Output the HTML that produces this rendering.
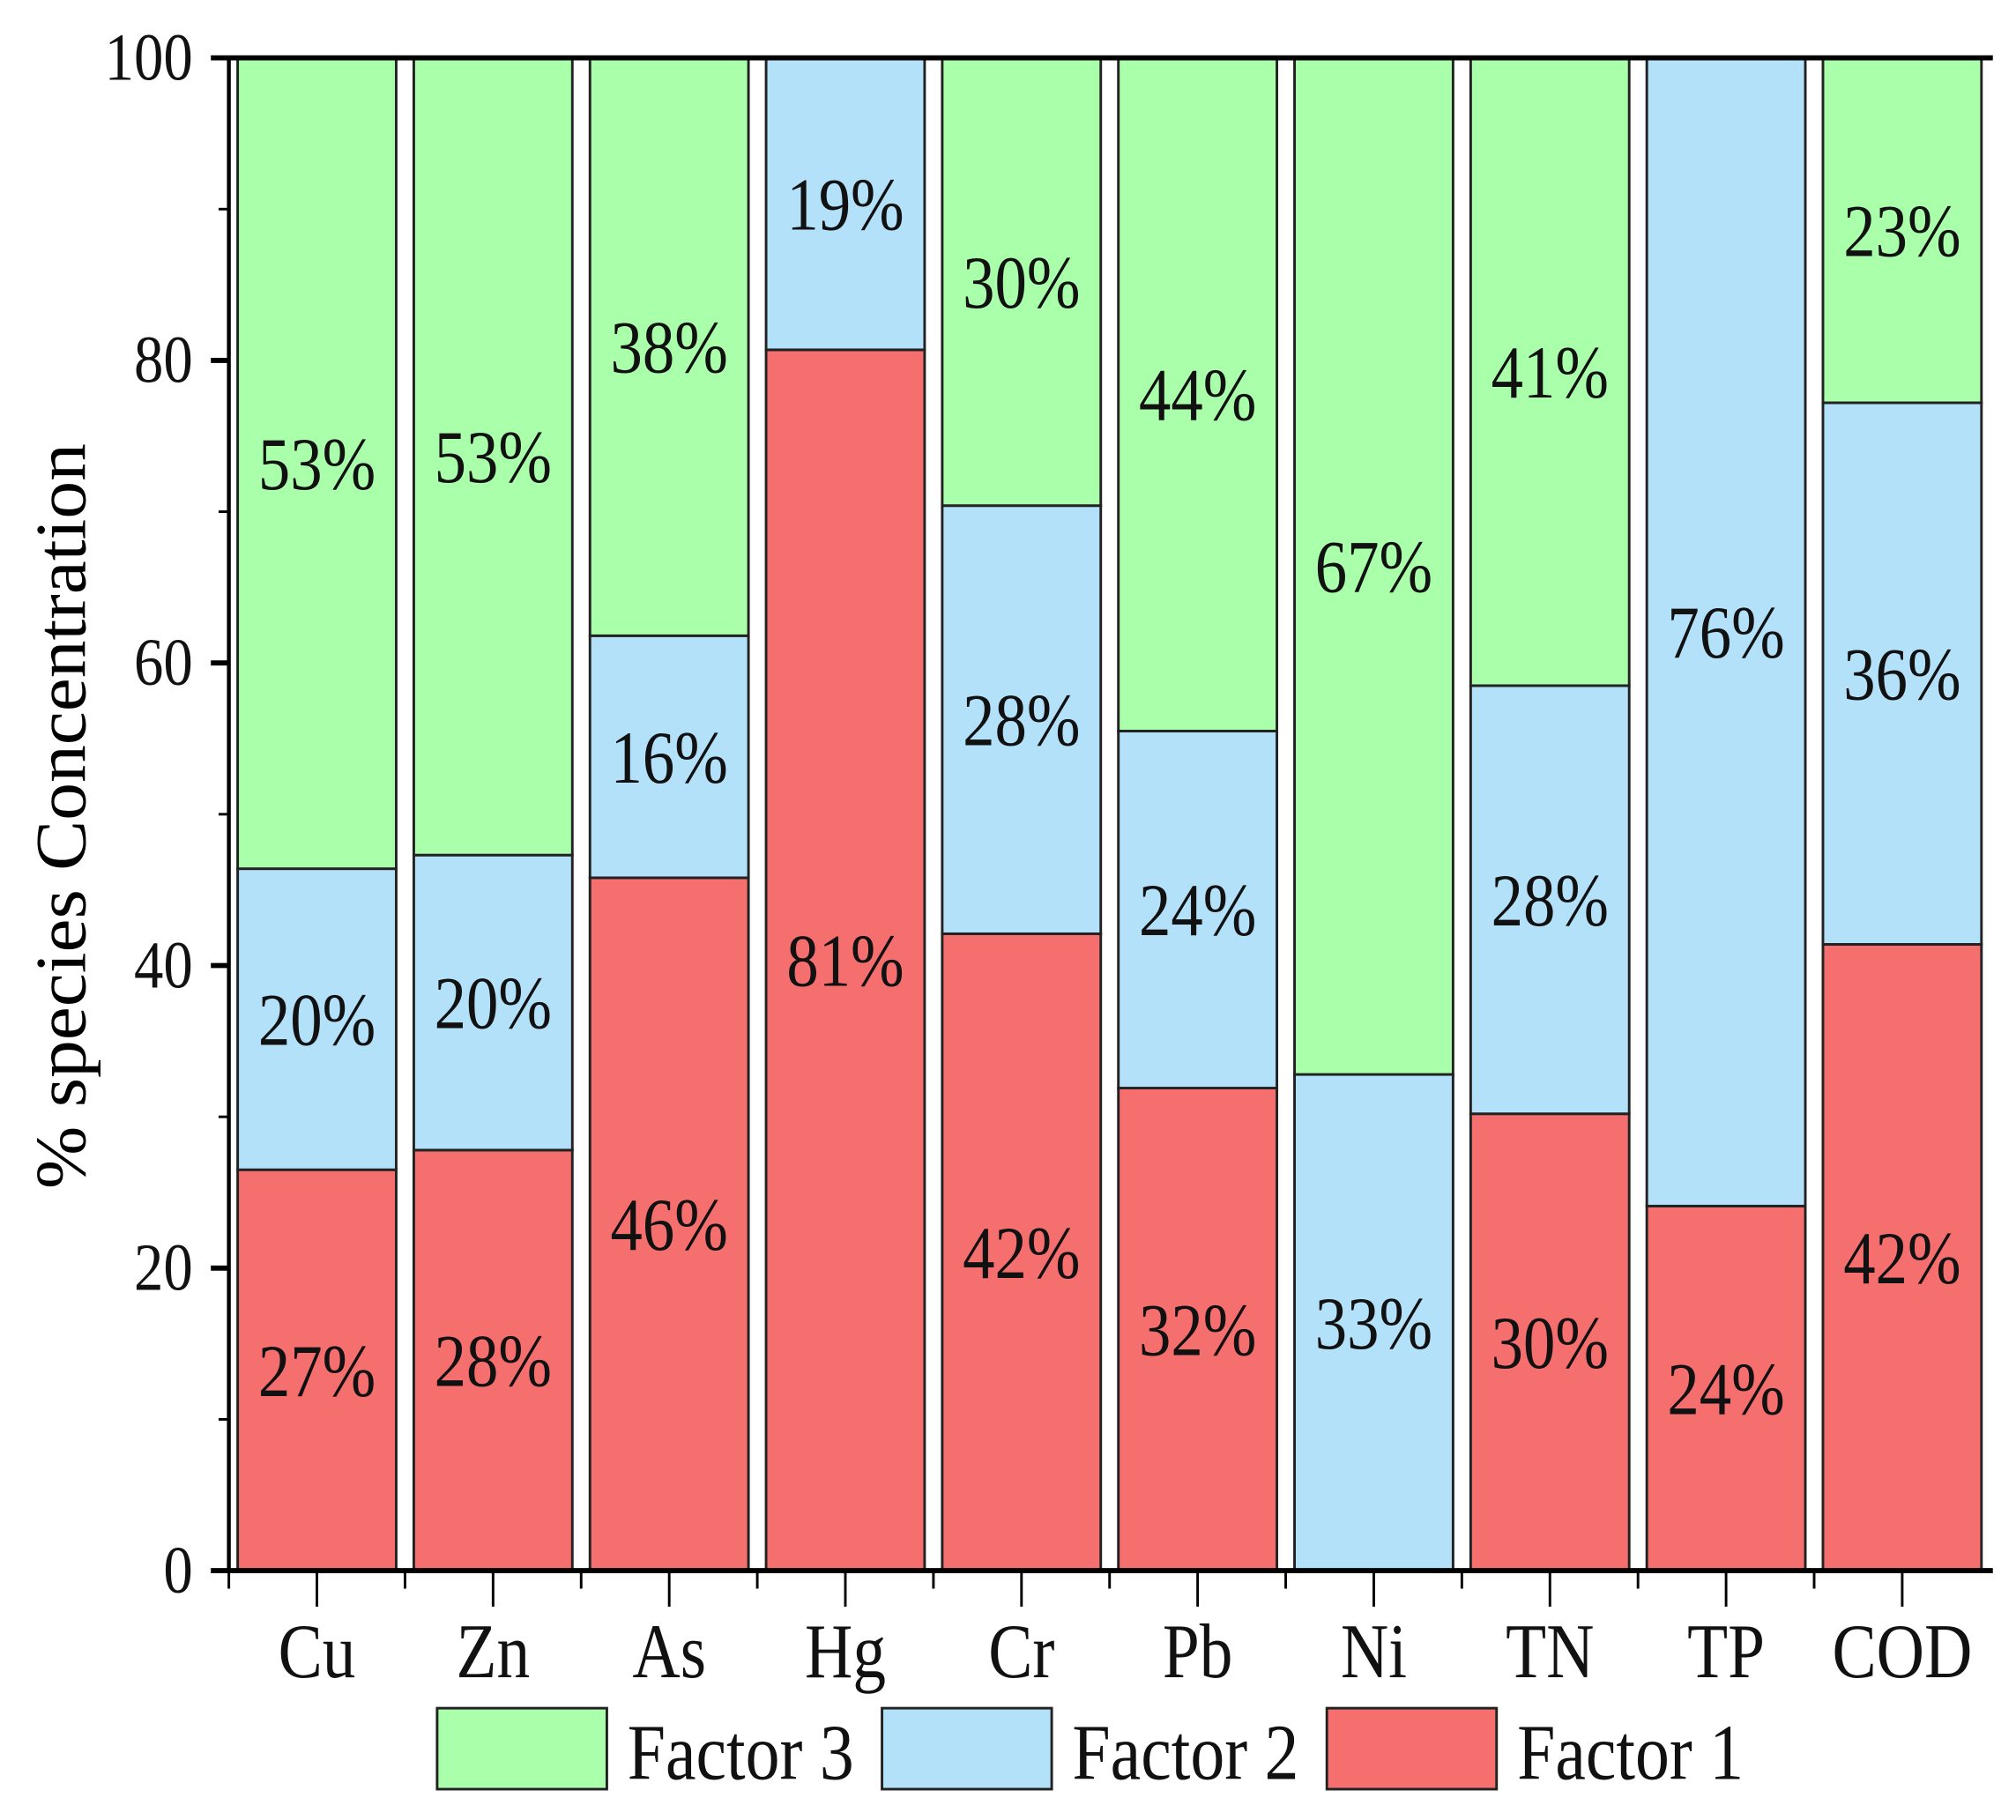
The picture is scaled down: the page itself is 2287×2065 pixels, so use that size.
<!DOCTYPE html>
<html><head><meta charset="utf-8"><style>
html,body{margin:0;padding:0;background:#fff;}
svg{display:block;font-family:"Liberation Serif",serif;}
</style></head><body>
<svg id="chart" width="2287" height="2065" viewBox="0 0 1568 1416" preserveAspectRatio="none" xmlns="http://www.w3.org/2000/svg">
<g id="marks"></g>
<g id="axes"></g>
</svg>
<script>
const categories = ["Cu","Zn","As","Hg","Cr","Pb","Ni","TN","TP","COD"];
const factor1 = [26.5,27.8,45.8,80.7,42.1,31.9,0,30.2,24.1,41.4];
const factor2 = [19.9,19.5,16.0,19.3,28.3,23.6,32.8,28.3,75.9,35.8];
const factor3 = [53.6,52.7,38.2,0,29.6,44.5,67.2,41.5,0,22.8];
const labels1 = ["27%","28%","46%","81%","42%","32%","","30%","24%","42%"];
const labels2 = ["20%","20%","16%","19%","28%","24%","33%","28%","76%","36%"];
const labels3 = ["53%","53%","38%","","30%","44%","67%","41%","","23%"];
const yTicks = [0,20,40,60,80,100];
const seriesNames = ["Factor 3","Factor 2","Factor 1"];

const NS="http://www.w3.org/2000/svg";
const X0=178,X1=1548,Y0=1222,Y1=45;
const band=(X1-X0)/categories.length;
const yS=v=>Y0-(v/100)*(Y0-Y1);
const xC=i=>X0+band*(i+0.5);
const colors={f1:"#f66f6f",f2:"#b4e1fa",f3:"#aaffaa"};
function mk(tag,attrs,parent){const e=document.createElementNS(NS,tag);for(const k in attrs)e.setAttribute(k,attrs[k]);parent.appendChild(e);return e;}
function txt(x,y,size,anchor,sx,parent){return mk('text',{x:0,y:0,'font-size':size,'text-anchor':anchor,fill:'#111',transform:'translate('+x+','+y+') scale('+sx+',1)'},parent);}
const marks=document.getElementById('marks'),axes=document.getElementById('axes');
const bw=band*0.9;
categories.forEach((c,i)=>{
  const segs=[[factor1[i],colors.f1,labels1[i],'factor1'],[factor2[i],colors.f2,labels2[i],'factor2'],[factor3[i],colors.f3,labels3[i],'factor3']];
  let base=0;
  segs.forEach(s=>{
    if(s[0]<=0)return;
    const top=Math.min(100,base+s[0]);
    const r=mk('rect',{x:xC(i)-bw/2,y:yS(top),width:bw,height:yS(base)-yS(top),fill:s[1],stroke:"#222","stroke-width":2},marks);
    
    
    if(s[2]){
      const t=txt(xC(i),(yS(top)+yS(base))/2+20,58,'middle',0.86,marks);
      t.textContent=s[2];
      
      
    }
    base=top;
  });
});
mk('line',{x1:X0,y1:Y1,x2:X1+2,y2:Y1,stroke:'#000','stroke-width':4},axes);
mk('line',{x1:X0,y1:Y0,x2:X1+2,y2:Y0,stroke:'#000','stroke-width':4},axes);
mk('line',{x1:X0,y1:Y1,x2:X0,y2:Y0,stroke:'#000','stroke-width':3},axes);
for(let v=0;v<=100;v+=10){
  const major=v%20===0;
  mk('line',{x1:X0-(major?14:8),y1:yS(v),x2:X0,y2:yS(v),stroke:'#000','stroke-width':major?4:2},axes);
}
yTicks.forEach(v=>{
  const t=txt(150,yS(v)+17,52,'end',0.88,axes);
  t.textContent=v;
  
  
});
categories.forEach((c,i)=>{
  mk('line',{x1:xC(i),y1:Y0,x2:xC(i),y2:Y0+28,stroke:'#000','stroke-width':2},axes);
  mk('line',{x1:X0+band*i,y1:Y0,x2:X0+band*i,y2:Y0+14,stroke:'#000','stroke-width':2},axes);
  const t=txt(xC(i),1305,60,'middle',0.86,axes);
  t.textContent=c;
  
  
});
const yt=mk('text',{x:0,y:0,'font-size':56,'text-anchor':'middle',transform:'translate(66,635) rotate(-90) scale(1.0,1)'},axes);
yt.textContent='% species Concentration';
yt.setAttribute('textLength','580');
yt.setAttribute('lengthAdjust','spacingAndGlyphs');


const legCols=[colors.f3,colors.f2,colors.f1];
const legX=[340,686,1032];
seriesNames.forEach((n,k)=>{
  const r=mk('rect',{x:legX[k],y:1329,width:132,height:63,fill:legCols[k],stroke:'#222','stroke-width':2},axes);
  
  
  const t=txt(legX[k]+148,1384,62,'start',0.86,axes);
  t.textContent=n;
  
  
});
</script>
</body></html>
